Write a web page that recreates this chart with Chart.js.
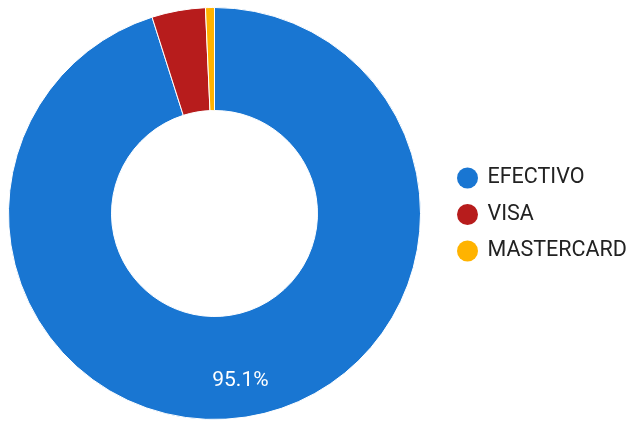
<!DOCTYPE html>
<html>
<head>
<meta charset="utf-8">
<script src="https://cdn.jsdelivr.net/npm/chart.js@4/dist/chart.umd.min.js"></script>
<style>
  html, body { margin: 0; padding: 0; background: #fff; }
  canvas { display: block; }
</style>
</head>
<body>
<canvas id="pie" width="632" height="427"></canvas>
<script>
const labels = ['EFECTIVO', 'VISA', 'MASTERCARD'];
const values = [95.1, 4.2, 0.7];
const colors = ['#1976D2', '#B71C1C', '#FFB300'];

// percentage text inside the slices (only the big ones, like the original)
const sliceLabels = {
  id: 'sliceLabels',
  afterDatasetsDraw(chart) {
    const ctx = chart.ctx;
    const meta = chart.getDatasetMeta(0);
    const total = values.reduce((a, b) => a + b, 0);
    ctx.save();
    ctx.font = '21px Roboto';
    ctx.fillStyle = '#ffffff';
    ctx.textAlign = 'center';
    ctx.textBaseline = 'middle';
    meta.data.forEach((arc, i) => {
      const pct = values[i] / total * 100;
      if (pct < 8) return;
      const p = arc.getProps(['x', 'y', 'startAngle', 'endAngle', 'innerRadius', 'outerRadius'], true);
      const mid = (p.startAngle + p.endAngle) / 2;
      const r = p.innerRadius + 0.64 * (p.outerRadius - p.innerRadius);
      ctx.fillText(pct.toFixed(1) + '%', p.x + Math.cos(mid) * r, p.y + Math.sin(mid) * r);
    });
    ctx.restore();
  }
};

// legend on the right with round markers
const sideLegend = {
  id: 'sideLegend',
  afterDraw(chart) {
    const ctx = chart.ctx;
    const ds = chart.data.datasets[0];
    ctx.save();
    ctx.font = '21.5px Roboto';
    ctx.textBaseline = 'middle';
    chart.data.labels.forEach((lab, i) => {
      const y = 178 + i * 36.5;
      ctx.fillStyle = ds.backgroundColor[i];
      ctx.beginPath();
      ctx.arc(467.5, y, 10.5, 0, Math.PI * 2);
      ctx.fill();
      ctx.fillStyle = '#222222';
      ctx.fillText(lab, 487.5, y);
    });
    ctx.restore();
  }
};

new Chart(document.getElementById('pie'), {
  type: 'doughnut',
  data: {
    labels: labels,
    datasets: [{
      data: values,
      backgroundColor: colors,
      borderColor: '#ffffff',
      borderWidth: 1
    }]
  },
  options: {
    responsive: false,
    animation: false,
    cutout: '50%',
    layout: { padding: { left: 8, top: 7, right: 211, bottom: 7 } },
    plugins: {
      legend: { display: false },
      tooltip: { enabled: false }
    }
  },
  plugins: [sliceLabels, sideLegend]
});
</script>
</body>
</html>
